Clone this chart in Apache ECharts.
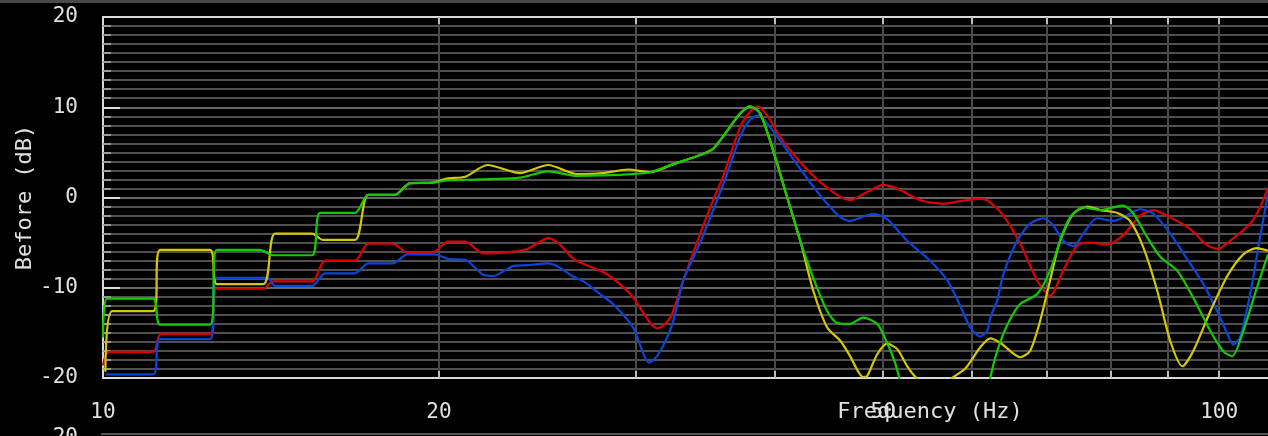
<!DOCTYPE html>
<html>
<head>
<meta charset="utf-8">
<script src="https://cdn.jsdelivr.net/npm/echarts@6/dist/echarts.min.js"></script>
<style>
html, body { margin: 0; padding: 0; background: #000; }
#main { width: 1268px; height: 436px; }
</style>
</head>
<body>
<div id="main"></div>
<script>
// [频率 Hz, 电平 dB] 从图上读出
var red = [[10.0,-18.6],[10.12,-17.1],[11.09,-17.1],[11.27,-15.1],[12.47,-15.1],[12.65,-10.1],[13.92,-10.1],[14.2,-9.3],[15.39,-9.3],[15.81,-7.0],[16.82,-7.0],[17.28,-5.1],[18.19,-5.1],[18.73,-6.1],[19.75,-6.1],[20.37,-4.9],[21.11,-4.9],[21.91,-6.2],[22.7,-6.15],[23.99,-5.7],[25.05,-4.5],[25.6,-5.1],[26.38,-6.8],[27.0,-7.4],[28.29,-8.5],[29.68,-10.7],[30.92,-13.9],[31.37,-14.5],[32.23,-13.3],[33.1,-9.2],[34.28,-4.0],[35.21,-0.3],[35.93,2.3],[37.22,7.8],[37.99,9.5],[38.63,10.1],[39.44,8.9],[40.43,6.7],[42.14,3.9],[43.91,1.7],[45.79,0.04],[46.71,-0.3],[48.37,0.6],[50.0,1.4],[51.48,1.0],[53.98,-0.3],[56.58,-0.7],[58.6,-0.4],[60.78,-0.15],[62.0,-0.3],[64.07,-2.0],[66.33,-5.1],[68.7,-9.2],[70.55,-10.9],[72.49,-8.1],[74.62,-5.3],[76.68,-5.0],[79.4,-5.2],[82.0,-4.2],[85.0,-2.0],[87.3,-1.4],[90.4,-2.2],[94.2,-3.5],[97.6,-5.3],[99.8,-5.7],[102.3,-4.8],[106.6,-2.9],[108.8,-1.1],[110.6,1.1]];
var blue = [[10.05,-19.6],[11.09,-19.6],[11.25,-15.7],[12.47,-15.7],[12.65,-8.9],[14.05,-8.9],[14.26,-9.8],[15.39,-9.8],[15.81,-8.4],[16.82,-8.4],[17.28,-7.3],[18.19,-7.3],[18.73,-6.3],[19.83,-6.3],[20.37,-6.8],[21.11,-6.9],[21.87,-8.5],[22.36,-8.7],[23.3,-7.6],[24.0,-7.5],[25.05,-7.3],[25.6,-7.7],[26.32,-8.7],[27.03,-9.4],[27.88,-10.7],[28.64,-11.8],[29.85,-14.4],[30.85,-18.3],[31.44,-17.4],[32.37,-14.0],[33.1,-9.2],[34.28,-5.0],[35.21,-1.4],[36.23,2.6],[37.22,6.7],[37.99,8.6],[38.63,9.1],[39.6,7.8],[41.02,5.2],[42.75,2.1],[44.55,-0.7],[45.79,-2.2],[46.71,-2.6],[48.98,-1.8],[50.41,-2.4],[52.55,-4.8],[55.08,-7.0],[57.1,-9.2],[58.61,-12.0],[59.84,-14.4],[61.08,-15.4],[61.97,-14.8],[62.36,-13.3],[63.27,-11.4],[64.07,-8.5],[65.92,-4.8],[67.7,-2.9],[69.55,-2.3],[71.01,-3.1],[72.49,-4.8],[74.01,-5.4],[75.57,-4.0],[77.7,-2.3],[80.4,-2.6],[82.0,-2.2],[85.0,-1.3],[87.3,-1.8],[90.4,-4.0],[93.6,-6.8],[96.8,-9.6],[99.6,-12.6],[101.7,-15.1],[102.9,-16.3],[104.4,-15.5],[106.6,-10.7],[108.8,-4.4],[110.6,0.4]];
var green = [[10.0,-15.5],[10.08,-11.2],[11.09,-11.2],[11.25,-14.1],[12.47,-14.1],[12.65,-5.8],[13.83,-5.8],[14.2,-6.4],[15.39,-6.4],[15.65,-1.7],[16.82,-1.7],[17.28,0.3],[18.27,0.3],[18.84,1.6],[19.75,1.65],[20.33,1.9],[21.77,2.0],[23.64,2.2],[25.05,2.9],[26.59,2.4],[28.0,2.45],[29.85,2.6],[30.92,2.8],[32.43,3.7],[33.0,4.0],[34.28,4.7],[35.21,5.4],[36.45,7.8],[37.22,9.3],[37.99,10.1],[38.79,9.3],[39.85,5.2],[41.02,0.0],[42.14,-4.8],[43.28,-8.9],[44.55,-12.6],[45.48,-13.9],[46.71,-14.0],[47.97,-13.3],[49.38,-14.0],[50.41,-16.1],[51.27,-18.4],[51.69,-20],[52.5,-24],[61.5,-24],[62.36,-20],[63.27,-17.0],[64.66,-14.0],[66.33,-11.8],[68.7,-10.7],[70.55,-8.1],[72.02,-4.8],[73.52,-2.2],[75.57,-1.1],[78.32,-1.4],[80.4,-1.1],[82.0,-0.9],[83.8,-1.8],[86.2,-4.4],[88.6,-6.6],[91.7,-8.1],[94.8,-11.1],[98.2,-14.8],[100.8,-17.0],[102.7,-17.6],[105.1,-14.8],[108.1,-10.0],[110.6,-6.3]];
var yellow = [[10.05,-19.3],[10.19,-12.6],[11.09,-12.6],[11.25,-5.8],[12.47,-5.8],[12.65,-9.6],[13.92,-9.6],[14.26,-4.0],[15.39,-4.0],[15.74,-4.7],[16.82,-4.7],[17.28,0.3],[18.27,0.3],[18.84,1.6],[19.75,1.65],[20.33,2.1],[21.11,2.3],[22.1,3.6],[23.64,2.7],[25.05,3.6],[26.59,2.6],[28.0,2.7],[29.54,3.1],[30.92,2.8],[32.43,3.7],[33.0,4.0],[34.28,4.7],[35.21,5.4],[36.45,7.8],[37.22,9.3],[37.99,10.1],[38.79,9.3],[39.85,5.2],[41.02,0.0],[42.14,-4.8],[43.28,-10.3],[44.55,-14.4],[45.79,-15.9],[46.71,-17.6],[47.97,-19.9],[48.37,-19.8],[49.38,-17.4],[50.41,-16.2],[51.48,-16.8],[52.55,-18.7],[53.57,-20],[55.5,-21.5],[57.64,-20],[59.29,-18.9],[61.08,-16.6],[62.36,-15.6],[63.67,-16.1],[66.33,-17.7],[67.7,-17.0],[69.11,-13.7],[70.55,-9.2],[72.02,-4.8],[74.01,-1.8],[76.2,-1.0],[78.32,-1.4],[81.0,-1.7],[83.2,-2.6],[85.5,-5.5],[88.0,-10.3],[90.4,-15.9],[92.7,-18.7],[94.8,-17.0],[98.2,-12.6],[101.7,-8.7],[105.1,-6.3],[108.1,-5.6],[110.6,-5.9]];

var gridTicks = [20, 30, 40, 50, 60, 70, 80, 90, 100];
var xLabels = [10, 20, 50, 100];

var font = 'DejaVu Sans Mono';
var myChart = echarts.init(document.getElementById('main'));

function line(name, data, color) {
    return {
        name: name,
        type: 'line',
        data: data,
        showSymbol: false,
        smooth: 0.25,
        clip: true,
        lineStyle: { color: color, width: 2.2 },
        itemStyle: { color: color }
    };
}

var option = {
    backgroundColor: '#000',
    animation: false,
    grid: { left: 103, right: 0, top: 17, bottom: 58 },
    xAxis: [
        {
            type: 'log', logBase: 10, min: 10, max: 110.6,
            axisLine: { show: true, onZero: false, lineStyle: { color: '#d8d8d8', width: 2 } },
            axisTick: { show: true, inside: true, length: 7, customValues: gridTicks, lineStyle: { color: '#bbb', width: 2 } },
            axisLabel: { customValues: xLabels, color: '#e0e0e0', fontFamily: font, fontSize: 21, margin: 24 },
            splitLine: { show: true, lineStyle: { color: '#4a4a4a', width: 2 } },
            minorTick: { show: false }
        },
        {
            type: 'log', logBase: 10, min: 10, max: 110.6, position: 'top',
            axisLine: { show: true, onZero: false, lineStyle: { color: '#d8d8d8', width: 2 } },
            axisTick: { show: true, inside: true, length: 7, customValues: gridTicks, lineStyle: { color: '#bbb', width: 2 } },
            axisLabel: { show: false },
            splitLine: { show: false }
        }
    ],
    yAxis: {
        type: 'value', min: -20, max: 20, interval: 10,
        name: 'Before (dB)', nameLocation: 'middle', nameGap: 67, nameMoveOverlap: false,
        nameTextStyle: { color: '#e0e0e0', fontFamily: font, fontSize: 22 },
        axisLine: { show: true, lineStyle: { color: '#d8d8d8', width: 2 } },
        axisTick: { show: true, inside: true, length: 17, lineStyle: { color: '#ddd', width: 2 } },
        minorTick: { show: true, splitNumber: 10, length: 8, lineStyle: { color: '#999', width: 2 } },
        axisLabel: { color: '#e0e0e0', fontFamily: font, fontSize: 21, margin: 25 },
        splitLine: { show: true, lineStyle: { color: '#666', width: 2 } },
        minorSplitLine: { show: true, lineStyle: { color: '#505050', width: 2 } }
    },
    graphic: [
        { type: 'rect', shape: { x: 0, y: 0, width: 1268, height: 3 }, style: { fill: '#4a4a4a' } },
        { type: 'text', x: 930, y: 412, style: { text: 'Frequency (Hz)', fill: '#e0e0e0', font: '22px "DejaVu Sans Mono"', align: 'center', verticalAlign: 'middle' } },
        { type: 'line', shape: { x1: 101, y1: 434, x2: 1268, y2: 434 }, style: { stroke: '#555', lineWidth: 2 } },
        { type: 'text', x: 78, y: 438, style: { text: '-20', fill: '#e0e0e0', font: '21px "DejaVu Sans Mono"', align: 'right', verticalAlign: 'middle' } }
    ],
    series: [
        line('red', red, '#dd0000'),
        line('blue', blue, '#0a44d8'),
        line('yellow', yellow, '#d4c800'),
        line('green', green, '#11cc00')
    ]
};

myChart.setOption(option);
</script>
</body>
</html>
